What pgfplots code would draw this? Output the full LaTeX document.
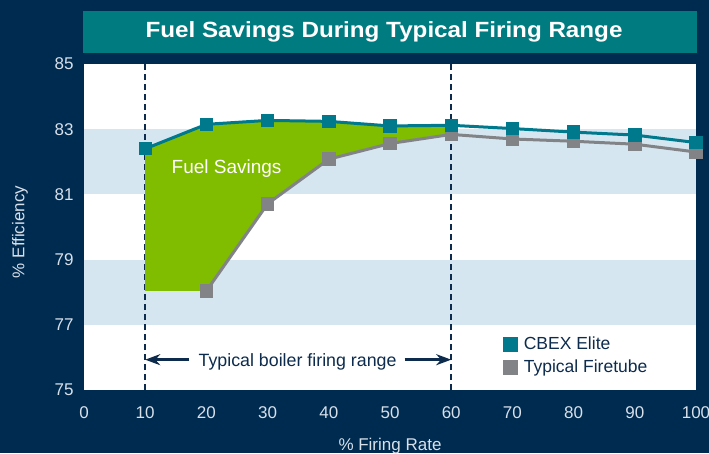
\documentclass[border=0pt]{standalone}
\usepackage{fontspec}
\setmainfont{Liberation Sans}
\newfontfamily\titlefont{Liberation Sans Bold}[FakeStretch=1.1]
\usepackage{pgfplots}
\pgfplotsset{compat=1.18}
\usetikzlibrary{arrows.meta}
\definecolor{navy}{HTML}{002B50}
\definecolor{titleteal}{HTML}{007B80}
\definecolor{cbex}{HTML}{00798C}
\definecolor{fire}{HTML}{828387}
\definecolor{savings}{HTML}{80BC00}
\definecolor{band}{HTML}{D6E6F1}
\definecolor{navytext}{HTML}{0D2C4D}
\definecolor{ticklab}{HTML}{D8E0EA}
\begin{document}
\begin{tikzpicture}[x=1pt,y=1pt]
\clip (0,0) rectangle (709,453);
\fill[navy] (0,0) rectangle (709,453);
\fill[titleteal] (83,400) rectangle (697,442);
\node[text=white, font=\titlefont\fontsize{22}{22}\selectfont] at (384,421) {Fuel Savings During Typical Firing Range};
\node[text=ticklab, rotate=90, font=\fontsize{17}{17}\selectfont] at (20,221) {\% Efficiency};
\node[text=ticklab, anchor=base, font=\fontsize{17}{17}\selectfont] at (390,2.5) {\% Firing Rate};
\begin{axis}[
  at={(84pt,63pt)}, anchor=south west, scale only axis,
  width=612pt, height=326pt,
  xmin=0, xmax=100, ymin=75, ymax=85,
  xtick={0,10,...,100}, ytick={75,77,...,85},
  axis background/.style={fill=white},
  axis line style={draw=none},
  major tick length=0pt,
  tick label style={font=\fontsize{17}{17}\selectfont, text=ticklab},
  /pgf/number format/assume math mode=true,
  xticklabel style={yshift=-13pt},
  yticklabel style={xshift=-7pt},
  clip=false,
  legend style={at={(axis cs:68.5,76.7)}, anchor=north west, draw=none, fill=none,
    inner sep=0pt, row sep=5pt, column sep=4pt, font=\fontsize{17.5}{17.5}\selectfont, text=navytext,
    legend cell align=left},
]
\fill[band] (axis cs:0,81) rectangle (axis cs:100,83);
\fill[band] (axis cs:0,77) rectangle (axis cs:100,79);
\draw[navytext, line width=1.6pt, dash pattern=on 6pt off 4pt] (axis cs:10,75) -- (axis cs:10,85);
\draw[navytext, line width=1.6pt, dash pattern=on 6pt off 4pt] (axis cs:60,75) -- (axis cs:60,85);
\addplot[fill=savings, draw=none, forget plot] coordinates {
 (10,82.40) (20,83.15) (30,83.27) (40,83.24) (50,83.10) (60,83.12)
 (60,82.84) (50,82.56) (40,82.08) (30,80.71) (20,78.04) (10,78.04)} -- cycle;
\addplot[fire, line width=3pt, mark=square*, mark size=5.2pt, mark options={draw=none, fill=fire}, forget plot] coordinates {
 (20,78.04) (30,80.71) (40,82.08) (50,82.56) (60,82.84) (70,82.70) (80,82.63) (90,82.54) (100,82.30)};
\addplot[cbex, line width=3pt, mark=square*, mark size=5.2pt, mark options={draw=none, fill=cbex}, forget plot] coordinates {
 (10,82.40) (20,83.15) (30,83.27) (40,83.24) (50,83.10) (60,83.12) (70,83.02) (80,82.91) (90,82.82) (100,82.59)};
\node[text=white, anchor=base, font=\fontsize{19}{19}\selectfont] at (axis cs:23.3,81.63) {Fuel Savings};
\node[text=navytext, anchor=base, font=\fontsize{17.8}{17.8}\selectfont] at (axis cs:34.9,75.73) {Typical boiler firing range};
\draw[navytext, line width=3pt, -{Stealth[length=15pt,width=11pt]}] (axis cs:17.2,75.93) -- (axis cs:10,75.93);
\draw[navytext, line width=3pt, -{Stealth[length=15pt,width=11pt]}] (axis cs:52.4,75.93) -- (axis cs:60,75.93);
\addlegendimage{legend image code/.code={\fill[cbex] (0pt,-7pt) rectangle (14pt,7pt);}}
\addlegendentry{CBEX Elite}
\addlegendimage{legend image code/.code={\fill[fire] (0pt,-7pt) rectangle (14pt,7pt);}}
\addlegendentry{Typical Firetube}
\end{axis}
\end{tikzpicture}
\end{document}
